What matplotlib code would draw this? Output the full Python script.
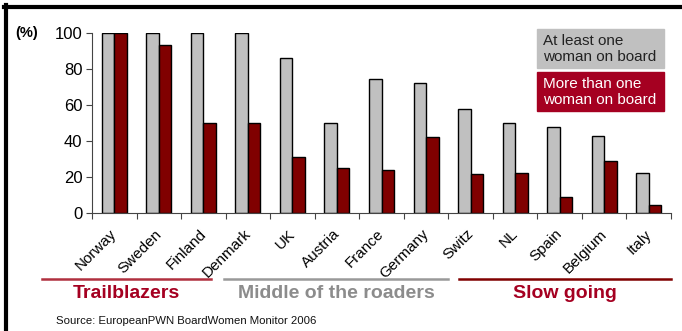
import matplotlib
matplotlib.use("Agg")
import matplotlib.pyplot as plt
import numpy as np
from matplotlib.patches import Rectangle
from matplotlib.lines import Line2D

plt.rcParams["font.family"] = ["Liberation Sans", "DejaVu Sans"]

countries = ["Norway", "Sweden", "Finland", "Denmark", "UK", "Austria", "France",
             "Germany", "Switz", "NL", "Spain", "Belgium", "Italy"]
at_least_one = [100, 100, 100, 100, 86, 50, 74.5, 72, 58, 50, 48, 43, 22]
more_than_one = [100, 93.5, 50, 50, 31, 25, 24, 42, 21.5, 22.5, 9, 29, 4.5]
y_ticks = [0, 20, 40, 60, 80, 100]
groups = ["Trailblazers", "Middle of the roaders", "Slow going"]
source = "Source: EuropeanPWN BoardWomen Monitor 2006"

GRAY = "#c0c0c0"
RED = "#800000"
BOX_RED = "#a50021"

fig = plt.figure(figsize=(6.82, 3.31), dpi=100)
ax = fig.add_axes([92 / 682, 1 - 213 / 331, (671 - 92) / 682, (213 - 33) / 331])

x = np.arange(len(countries)) + 0.5
w = 0.28
ax.bar(x - w / 2, at_least_one, w, color=GRAY, edgecolor="black", linewidth=1.0)
ax.bar(x + w / 2, more_than_one, w, color=RED, edgecolor="black", linewidth=1.0)

ax.set_xlim(0, len(countries))
ax.set_ylim(0, 100)
ax.set_yticks(y_ticks)
ax.set_yticklabels([str(v) for v in y_ticks], fontsize=12)
ax.set_xticks(np.arange(len(countries) + 1))
ax.set_xticklabels([])
# labels sit a little left of the category centre, like the original
ax.set_xticks(x - 0.1, minor=True)
ax.set_xticklabels(countries, minor=True, rotation=45, ha="right",
                   rotation_mode="anchor", fontsize=11)
ax.tick_params(axis="x", which="minor", length=0, pad=10)
ax.tick_params(axis="x", which="major", length=4, color="#444444")
ax.tick_params(axis="y", length=4, color="#444444", pad=3)
for s in ["top", "right"]:
    ax.spines[s].set_visible(False)
ax.spines["left"].set_color("#444444")
ax.spines["bottom"].set_color("#444444")


def fx(px):
    return px / 682


def fy(py):
    return 1 - py / 331


fig.text(fx(27), fy(33), "(%)", ha="center", va="center",
         fontsize=10.5, fontweight="bold")

# legend boxes
fig.patches.append(Rectangle((fx(537), fy(68)), fx(664) - fx(537), fy(29) - fy(68),
                             transform=fig.transFigure, color=GRAY, zorder=5))
fig.patches.append(Rectangle((fx(537), fy(111)), fx(664) - fx(537), fy(72) - fy(111),
                             transform=fig.transFigure, color=BOX_RED, zorder=5))
fig.text(fx(543), fy(49), "At least one\nwoman on board", fontsize=11,
         color="#222222", va="center", ha="left", linespacing=1.1, zorder=6)
fig.text(fx(543), fy(92), "More than one\nwoman on board", fontsize=11,
         color="white", va="center", ha="left", linespacing=1.1, zorder=6)

# group lines and labels
line_spans = [(42, 211, "#b0303f"), (224, 448, "#999999"), (459, 671, RED)]
label_colors = [BOX_RED, "#8c8c8c", BOX_RED]
for (x0, x1, c), name, lc in zip(line_spans, groups, label_colors):
    fig.add_artist(Line2D([fx(x0), fx(x1)], [fy(279), fy(279)], color=c, lw=1.8))
    fig.text(fx((x0 + x1) / 2), fy(294), name, ha="center", va="center",
             fontsize=14, fontweight="bold", color=lc)

fig.text(fx(56), fy(321), source, fontsize=8.2, ha="left", va="center", color="#111111")

# frame lines at top and left
fig.add_artist(Line2D([fx(4), 1], [fy(6.5), fy(6.5)], color="black", lw=3))
fig.add_artist(Line2D([fx(5.5), fx(5.5)], [fy(5), 0], color="black", lw=3))

fig.savefig("out.png", dpi=100)
